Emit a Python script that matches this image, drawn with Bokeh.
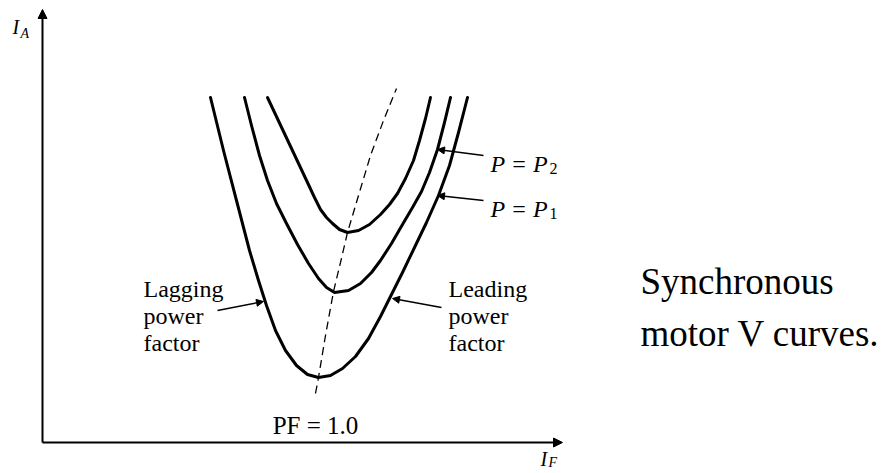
from bokeh.plotting import figure
from bokeh.models import ColumnDataSource, Arrow, NormalHead, Range1d
from bokeh.core.properties import value
from bokeh.embed import file_html
from bokeh.resources import INLINE

# Field current I_F (arbitrary units) and armature current I_A
outer_if = [168, 181, 194, 207, 216, 224, 233, 243, 254, 265, 276, 288, 300, 313, 326, 338, 349, 360, 372, 384, 396, 407, 416, 425]
outer_ia = [345, 292, 242, 192, 162, 137, 112, 92, 77, 68, 65, 67, 74, 86, 104, 126, 148, 170, 195, 220, 247, 277, 310, 345]

middle_if = [202, 209, 217, 225, 234, 244, 255, 266, 276, 284, 292, 306, 318, 329, 338, 349, 360, 370, 379, 387, 395, 402, 408]
middle_ia = [345, 317, 287, 262, 239, 219, 198, 179, 164, 155, 150, 152, 159, 170, 182, 199, 218, 235, 251, 270, 293, 320, 345]

inner_if = [225, 233, 241, 249, 257, 265, 272, 278, 284, 290, 297, 305, 316, 327, 338, 347, 355, 363, 371, 377, 383, 388]
inner_ia = [345, 328, 311, 294, 277, 260, 245, 233, 225, 219, 213, 210, 212, 218, 228, 238, 249, 264, 282, 302, 324, 345]

pf_if = [273, 276, 283, 291, 298, 305, 316, 328, 341, 354]
pf_ia = [49, 65, 107, 151, 180, 210, 247, 287, 322, 354]

# Axes (arrows)
axis_x0 = [0, 0]
axis_y0 = [0, 0]
axis_x1 = [0, 520]
axis_y1 = [433, 0]

# Pointer arrows: Lagging, Leading, P=P2, P=P1
ptr_x0 = [175, 399, 441, 441]
ptr_y0 = [132, 135, 287, 242]
ptr_x1 = [221, 350, 395, 395]
ptr_y1 = [141, 144, 293, 247]

# Normal labels
lab_text = ["Lagging", "power", "factor", "Leading", "power", "factor"]
lab_x = [101, 101, 101, 406, 406, 406]
lab_y = [154, 127, 100, 154, 127, 100]

pf_text = ["PF = 1.0"]
pf_x = [273]
pf_y = [17]

p_text = ["P = P", "P = P"]
p_x = [448, 448]
p_y = [279, 234]
sub_text = ["2", "1"]
sub_x = [507, 507]
sub_y = [274, 229]

ax_main_text = ["I", "I"]
ax_main_x = [-30, 498]
ax_main_y = [416, -16]
ax_sub_text = ["A", "F"]
ax_sub_x = [-22, 506]
ax_sub_y = [409, -20]

cap_text = ["Synchronous", "motor V curves."]
cap_x = [598, 598]
cap_y = [161, 109]

serif = value("Liberation Serif")

p = figure(width=883, height=473, output_backend="svg", toolbar_location=None,
           x_range=Range1d(-42, 841), y_range=Range1d(-31, 442),
           x_axis_location=None, y_axis_location=None, title=None,
           min_border=0, min_border_left=0, min_border_right=0,
           min_border_top=0, min_border_bottom=0)
p.outline_line_color = None
p.grid.grid_line_color = None
p.background_fill_color = "white"
p.border_fill_color = "white"

for xs, ys in [(outer_if, outer_ia), (middle_if, middle_ia), (inner_if, inner_ia)]:
    p.line(xs, ys, line_color="black", line_width=3, line_join="round", line_cap="round")

p.line(pf_if, pf_ia, line_color="black", line_width=1.3, line_dash="8 5")

axis_src = ColumnDataSource(dict(x0=axis_x0, y0=axis_y0, x1=axis_x1, y1=axis_y1))
p.add_layout(Arrow(source=axis_src, x_start="x0", y_start="y0", x_end="x1", y_end="y1",
                   line_width=2, line_color="black",
                   end=NormalHead(size=9, fill_color="black", line_color="black", line_width=1)))

ptr_src = ColumnDataSource(dict(x0=ptr_x0, y0=ptr_y0, x1=ptr_x1, y1=ptr_y1))
p.add_layout(Arrow(source=ptr_src, x_start="x0", y_start="y0", x_end="x1", y_end="y1",
                   line_width=1.5, line_color="black",
                   end=NormalHead(size=7, fill_color="black", line_color="black", line_width=1)))

p.text(lab_x, lab_y, text=lab_text, text_font=serif, text_font_size="24px",
       text_baseline="alphabetic", text_align="left", text_color="black")
p.text(pf_x, pf_y, text=pf_text, text_font=serif, text_font_size="25px",
       text_baseline="alphabetic", text_align="center", text_color="black")
p.text(p_x, p_y, text=p_text, text_font=serif, text_font_size="24px", text_font_style="italic",
       text_baseline="alphabetic", text_align="left", text_color="black")
p.text(sub_x, sub_y, text=sub_text, text_font=serif, text_font_size="16px",
       text_baseline="alphabetic", text_align="left", text_color="black")
p.text(ax_main_x, ax_main_y, text=ax_main_text, text_font=serif, text_font_size="20px",
       text_font_style="italic", text_baseline="alphabetic", text_align="left", text_color="black")
p.text(ax_sub_x, ax_sub_y, text=ax_sub_text, text_font=serif, text_font_size="14px",
       text_font_style="italic", text_baseline="alphabetic", text_align="left", text_color="black")
p.text(cap_x, cap_y, text=cap_text, text_font=serif, text_font_size="37px",
       text_baseline="alphabetic", text_align="left", text_color="black")

open("out.html", "w").write(file_html(p, INLINE))
